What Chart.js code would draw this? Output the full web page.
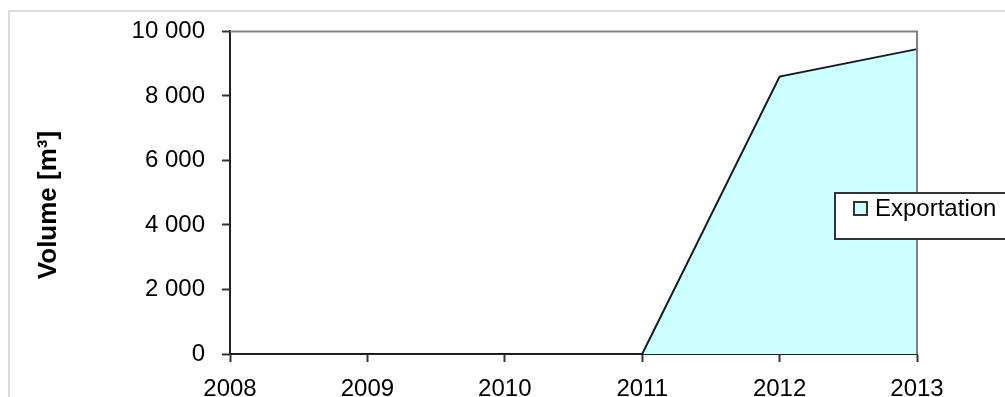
<!DOCTYPE html>
<html>
<head>
<meta charset="utf-8">
<script src="https://cdn.jsdelivr.net/npm/chart.js@4.4.0/dist/chart.umd.min.js"></script>
<style>
  html, body { margin: 0; padding: 0; background: #fff; }
  #wrap { width: 1005px; height: 397px; }
</style>
</head>
<body>
<div id="wrap"><canvas id="volumeChart" width="1005" height="397"></canvas></div>
<script>
const years = ['2008', '2009', '2010', '2011', '2012', '2013'];
const exportation = [0, 0, 0, 0, 8600, 9450];
const seriesLabel = 'Exportation';
const axisTitle = 'Volume [m³]';

const FONT = '"Liberation Sans", Arial, sans-serif';
const fillColor = '#ccffff';

function formatThousands(v) {
    return String(v).replace(/\B(?=(\d{3})+(?!\d))/g, ' ');
}

// frame, plot border, y title and the floating legend box
const decorations = {
    id: 'decorations',
    beforeDraw(chart) {
        const ctx = chart.ctx;
        ctx.save();
        ctx.strokeStyle = '#dcdcdc';
        ctx.lineWidth = 2;
        ctx.beginPath();
        ctx.moveTo(9, 400);
        ctx.lineTo(9, 11);
        ctx.lineTo(1010, 11);
        ctx.stroke();
        ctx.restore();
    },
    afterDatasetsDraw(chart) {
        const ctx = chart.ctx;
        const a = chart.chartArea;
        ctx.save();
        ctx.strokeStyle = '#808080';
        ctx.lineWidth = 2;
        ctx.beginPath();
        ctx.moveTo(a.left, a.top);
        ctx.lineTo(a.right, a.top);
        ctx.lineTo(a.right, a.bottom);
        ctx.stroke();
        ctx.restore();
    },
    afterDraw(chart) {
        const ctx = chart.ctx;
        ctx.save();
        // y title
        ctx.translate(49, 205);
        ctx.rotate(-Math.PI / 2);
        ctx.fillStyle = '#000';
        ctx.font = 'bold 26px ' + FONT;
        ctx.textAlign = 'center';
        ctx.textBaseline = 'middle';
        ctx.fillText(axisTitle, 0, 0);
        ctx.restore();

        // legend box
        const ds = chart.data.datasets[0];
        ctx.save();
        ctx.fillStyle = '#fff';
        ctx.fillRect(835, 193, 180, 46);
        ctx.strokeStyle = '#333';
        ctx.lineWidth = 2;
        ctx.strokeRect(835, 193, 180, 46);
        ctx.fillStyle = ds.backgroundColor;
        ctx.fillRect(854, 202, 13, 13);
        ctx.strokeStyle = '#333';
        ctx.lineWidth = 2;
        ctx.strokeRect(854, 202, 13, 13);
        ctx.fillStyle = '#000';
        ctx.font = '24px ' + FONT;
        ctx.textAlign = 'left';
        ctx.textBaseline = 'middle';
        ctx.fillText(ds.label, 875, 209);
        ctx.restore();
    }
};

const ctx = document.getElementById('volumeChart').getContext('2d');
const chart = new Chart(ctx, {
    type: 'line',
    data: {
        labels: years,
        datasets: [{
            label: seriesLabel,
            data: exportation,
            borderColor: '#1a1a1a',
            borderWidth: 2,
            backgroundColor: fillColor,
            fill: 'origin',
            pointRadius: 0,
            tension: 0
        }]
    },
    options: {
        responsive: false,
        animation: false,
        layout: { padding: { top: 29, right: 88, left: 0, bottom: 0 } },
        plugins: {
            legend: { display: false },
            tooltip: { enabled: false }
        },
        scales: {
            x: {
                type: 'category',
                offset: false,
                afterFit: (s) => { s.height = 43; },
                grid: {
                    display: true,
                    drawOnChartArea: false,
                    drawTicks: true,
                    tickLength: 8,
                    tickColor: '#333',
                    tickWidth: 2
                },
                border: { display: true, color: '#222', width: 2 },
                ticks: {
                    color: '#000',
                    padding: 13,
                    maxRotation: 0,
                    autoSkip: false,
                    font: { family: FONT, size: 24 }
                }
            },
            y: {
                min: 0,
                max: 10000,
                afterFit: (s) => { s.width = 230; },
                grid: {
                    display: true,
                    drawOnChartArea: false,
                    drawTicks: true,
                    tickLength: 8,
                    tickColor: '#333',
                    tickWidth: 2
                },
                border: { display: true, color: '#222', width: 2 },
                ticks: {
                    stepSize: 2000,
                    color: '#000',
                    padding: 17,
                    font: { family: FONT, size: 24 },
                    callback: (v) => formatThousands(v)
                }
            }
        }
    },
    plugins: [decorations]
});
</script>
</body>
</html>
